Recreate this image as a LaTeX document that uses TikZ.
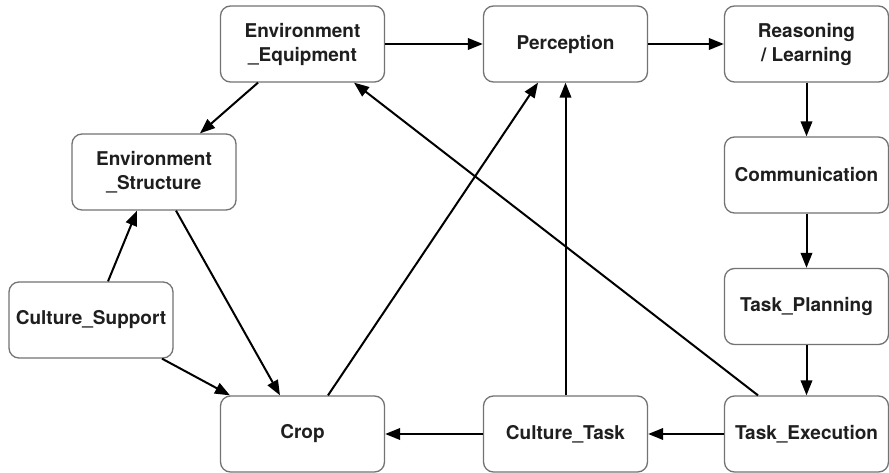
\documentclass[tikz,border=0pt]{standalone}
\usepackage{fontspec}
\setmainfont{TeX Gyre Heros}
\usetikzlibrary{arrows.meta}
\begin{document}
\begin{tikzpicture}[x=1pt,y=-1pt,
  box/.style={draw=black!55,line width=1.3pt,rounded corners=10pt,fill=white,
    minimum width=164pt,minimum height=76pt,align=center,inner sep=0pt,
    font=\fontsize{19}{24}\selectfont\bfseries,text=black!88},
  link/.style={line width=2pt,-{Triangle[length=15pt,width=11.5pt]}}]
\useasboundingbox (0,0) rectangle (889,473);
\fill[white] (0,0) rectangle (889,473);
% top row
\node[box] (EE) at (302.5,44) {Environment\\\_Equipment};
\node[box] (PE) at (565.5,44) {Perception};
\node[box] (RL) at (806.5,44) {Reasoning\\/ Learning};
% right column
\node[box] (CO) at (806.5,175) {Communication};
\node[box] (TP) at (806.5,306.5) {Task\_Planning};
% left side
\node[box] (ES) at (154,172) {Environment\\\_Structure};
\node[box] (CS) at (91,320) {Culture\_Support};
% bottom row
\node[box] (CR) at (302.5,434) {Crop};
\node[box] (CT) at (565.5,434) {Culture\_Task};
\node[box] (TE) at (806.5,434) {Task\_Execution};
% connectors
\draw[link] (EE) -- (PE);
\draw[link] (PE) -- (RL);
\draw[link] (RL) -- (CO);
\draw[link] (CO) -- (TP);
\draw[link] (TP) -- (TE);
\draw[link] (TE) -- (CT);
\draw[link] (CT) -- (CR);
\draw[link] (CT) -- (PE);
\draw[link] ([xshift=25.5pt]CR.north) -- ([xshift=-27.5pt]PE.south);
\draw[link] ([xshift=-48.5pt]TE.north) -- ([xshift=51.5pt]EE.south);
\draw[link] ([xshift=-44.5pt]EE.south) -- ([xshift=46pt]ES.north);
\draw[link] ([xshift=17pt]CS.north) -- ([xshift=-17pt]ES.south);
\draw[link] ([xshift=22pt]ES.south) -- ([xshift=-22.5pt]CR.north);
\draw[link] ([xshift=71pt]CS.south) -- ([xshift=-72.5pt]CR.north);
\end{tikzpicture}
\end{document}
